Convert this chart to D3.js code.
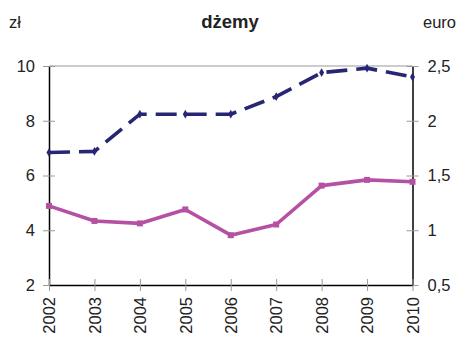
<!DOCTYPE html>
<html>
<head>
<meta charset="utf-8">
<script src="https://cdn.jsdelivr.net/npm/d3@7"></script>
<style>
  html, body { margin: 0; padding: 0; background: #fff; }
  svg { display: block; font-family: "Liberation Sans", Arial, sans-serif; }
</style>
</head>
<body>
<svg id="chart" width="460" height="339"></svg>
<script>
// Yearly prices of jams: PLN (left axis) and EUR (right axis)
const years = ["2002", "2003", "2004", "2005", "2006", "2007", "2008", "2009", "2010"];
const pricePln = [4.89, 4.34, 4.25, 4.76, 3.82, 4.21, 5.63, 5.84, 5.77];
const priceEur = [1.71, 1.72, 2.06, 2.06, 2.06, 2.22, 2.44, 2.48, 2.40];
const plnTicks = [2, 4, 6, 8, 10];
const eurTicks = [0.5, 1, 1.5, 2, 2.5];

const svg = d3.select("#chart");
const m = { left: 49, right: 412.5, top: 66, bottom: 285 };

const x = d3.scalePoint().domain(years).range([m.left, m.right]);
const yL = d3.scaleLinear().domain([2, 10]).range([m.bottom, m.top]);
const yR = d3.scaleLinear().domain([0.5, 2.5]).range([m.bottom, m.top]);

const navy = "#262672";
const pink = "#B551A3";
const grey = "#9a9a9a";
const fmtComma = d => String(d).replace(".", ",");

// top frame line
svg.append("line")
  .attr("x1", m.left).attr("x2", m.right)
  .attr("y1", m.top).attr("y2", m.top)
  .attr("stroke", grey).attr("stroke-width", 1.2);

// left axis
const gL = svg.append("g").attr("transform", `translate(${m.left},0)`)
  .call(d3.axisLeft(yL).tickValues(plnTicks).tickSize(0).tickPadding(14).tickFormat(d3.format("d")));
gL.select(".domain").attr("stroke", "#000").attr("stroke-width", 1.5);
gL.selectAll(".tick text").attr("font-size", 16.5).attr("fill", "#222");
gL.selectAll(".tick").append("line")
  .attr("x1", -6).attr("x2", 6).attr("stroke", grey).attr("stroke-width", 1);

// right axis
const gR = svg.append("g").attr("transform", `translate(${m.right},0)`)
  .call(d3.axisRight(yR).tickValues(eurTicks).tickSize(0).tickPadding(15).tickFormat(fmtComma));
gR.select(".domain").attr("stroke", "#000").attr("stroke-width", 1.5);
gR.selectAll(".tick text").attr("font-size", 16.5).attr("fill", "#222");
gR.selectAll(".tick").append("line")
  .attr("x1", -6).attr("x2", 6).attr("stroke", grey).attr("stroke-width", 1);

// bottom axis with rotated year labels
const gX = svg.append("g").attr("transform", `translate(0,${m.bottom})`)
  .call(d3.axisBottom(x).tickSize(0).tickPadding(0));
gX.select(".domain").attr("stroke", "#000").attr("stroke-width", 1.5);
gX.selectAll(".tick").append("line")
  .attr("y1", -6).attr("y2", 6).attr("stroke", grey).attr("stroke-width", 1);
gX.selectAll(".tick text")
  .attr("font-size", 16.5).attr("fill", "#222")
  .attr("text-anchor", "end")
  .attr("transform", "translate(0,12) rotate(-90)")
  .attr("dy", "0.35em").attr("x", 0).attr("y", 0);

// EUR series: dashed navy line with diamond markers
svg.append("path")
  .datum(priceEur)
  .attr("fill", "none").attr("stroke", navy).attr("stroke-width", 3.6)
  .attr("stroke-dasharray", "21,9")
  .attr("d", d3.line().x((d, i) => x(years[i])).y(d => yR(d)));
svg.append("g").selectAll("path")
  .data(priceEur).join("path")
  .attr("transform", (d, i) => `translate(${x(years[i])},${yR(d)})`)
  .attr("d", d3.symbol(d3.symbolDiamond, 22))
  .attr("fill", navy);

// PLN series: solid pink line with square markers
svg.append("path")
  .datum(pricePln)
  .attr("fill", "none").attr("stroke", pink).attr("stroke-width", 3.6)
  .attr("stroke-linejoin", "round")
  .attr("d", d3.line().x((d, i) => x(years[i])).y(d => yL(d)));
svg.append("g").selectAll("rect")
  .data(pricePln).join("rect")
  .attr("x", (d, i) => x(years[i]) - 3).attr("y", d => yL(d) - 3)
  .attr("width", 6).attr("height", 6)
  .attr("fill", pink);

// titles
svg.append("text").attr("x", 230).attr("y", 28)
  .attr("text-anchor", "middle").attr("font-size", 18.5).attr("font-weight", "bold")
  .attr("fill", "#222").text("dżemy");
svg.append("text").attr("x", 9).attr("y", 28)
  .attr("font-size", 16.5).attr("fill", "#222").text("zł");
svg.append("text").attr("x", 456).attr("y", 28)
  .attr("text-anchor", "end").attr("font-size", 16.5).attr("fill", "#222").text("euro");
</script>
</body>
</html>
